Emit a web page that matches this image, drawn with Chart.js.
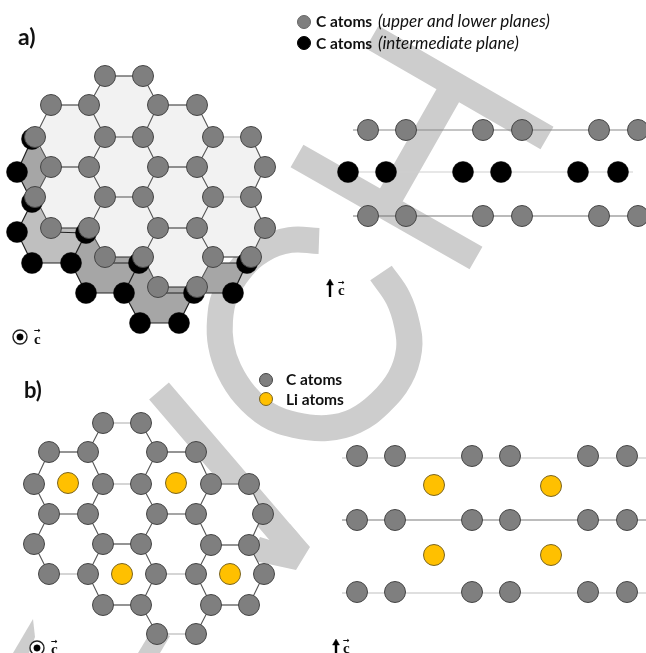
<!DOCTYPE html>
<html><head><meta charset="utf-8">
<script src="https://cdn.jsdelivr.net/npm/chart.js@4"></script>
<style>html,body{margin:0;padding:0;background:#fff}canvas{display:block}</style>
</head><body><canvas id="c" width="646" height="653"></canvas>
<script>
// Top-view atoms, same ordering in both panels (rows top to bottom)
const topAtomsA=[[105,76],[143,76],[51,105],[89,105],[158,105],[197,105],[35,137],[105,137],[143,137],[213,137],[251,137],[51,167],[89,167],[158,167],[197,167],[265,167],[35,197],[105,197],[143,197],[213,197],[251,197],[51,228],[89,228],[158,228],[197,228],[265,228],[105,257],[143,257],[213,257],[251,257],[158,287],[197,287]];
const topAtomsB=[[103,423],[141,423],[49,452],[88,452],[157,452],[196,452],[34,484],[103,484],[141,484],[211,484],[249,484],[49,514],[88,514],[157,514],[196,514],[263,514],[34,544],[103,544],[141,544],[211,545],[249,545],[49,574],[88,574],[156,574],[196,574],[264,574],[103,605],[141,605],[211,605],[249,605],[157,634],[196,634]];
const hexRings=[[0,1,4,8,7,3],[2,3,7,12,11,6],[4,5,9,14,13,8],[9,10,15,20,19,14],[7,8,13,18,17,12],[11,12,17,22,21,16],[13,14,19,24,23,18],[19,20,25,29,28,24],[17,18,23,27,26,22],[23,24,28,31,30,27]];
const midBondsA=[[7,8],[17,18]], lightBondsA=[[9,10],[19,20]];
const midBondsB=[[11,12],[13,14],[9,10]], lightBondsB=[[0,1],[7,8],[21,22],[23,24],[30,31]];
const blackAtomsA=[[32,139],[17,172],[32,202],[17,232],[32,263],[71,263],[86,233],[86,293],[124,293],[139,263],[194,293],[233,293],[247,263],[140,323],[179,323]];
const blackBondsA=[[[32,139],[17,172]],[[17,172],[32,202]],[[32,202],[17,232]],[[17,232],[32,263]],[[32,263],[71,263]],[[71,263],[86,233]],[[71,263],[86,293]],[[86,293],[124,293]],[[124,293],[139,263]],[[124,293],[140,323]],[[140,323],[179,323]],[[179,323],[194,293]],[[194,293],[233,293]],[[233,293],[247,263]],[[51,232],[86,233]],[[103,263],[139,263]],[[158,293],[194,293]],[[210,263],[247,263]]];
const lowerDark=[[[32,139],[17,172],[32,202],[60,170]],[[86,233],[71,263],[86,293],[124,293],[139,263],[120,233]],[[139,263],[124,293],[140,323],[179,323],[194,293],[170,263]],[[205,263],[194,293],[233,293],[247,263]]];
const lowerLight=[[[32,202],[17,232],[32,263],[71,263],[86,233],[70,202]]];
// Side views
const sideXUpperA=[368,406,483,522,599,638];
const sideXMiddleA=[348,386,463,501,578,618];
const sideYA=[130,172,216];
const sideXB=[357,395,472,510,588,627];
const sideYB=[456,520,592];
const liTopB=[[68,483],[176,483],[122,574],[230,574]];
const liSideB=[[434,485],[551,486],[434,555],[551,555]];
// Plane lines: [x0,x1,y]
const planeLinesA=[[353,646,130,'#8a8a8a'],[333,633,172,'#cfcfcf'],[353,646,216,'#777777']];
const planeLinesB=[[342,646,458,'#c0c0c0'],[342,646,520,'#7a7a7a'],[342,646,593,'#c0c0c0']];
// Watermark strokes
const wmBars=[[[372,37],[547,138]],[[455,83],[385,206]],[[297,156],[476,258]],[[159,391],[290,544]]];
const wmArc=[[319,241],[290,240],[262,250],[240,270],[225,295],[220,320],[221,345],[229,370],[245,395],[268,415],[295,425],[327,428],[355,421],[380,403],[400,378],[409,350],[407,325],[398,298],[381,273]];
const wmPatches=[[[33,619],[13,653],[29,653],[35,637]],[[138,653],[153,628],[170,636],[160,653]],[[260,537],[273,541],[290,524],[310,547],[296,570],[250,560]]];
// Legends and labels
const legendGrayA=[[304,22]], legendBlackA=[[304,43]], legendGrayB=[[266,380]], legendLiB=[[266,399]];
const axisDots=[[20,337],[37,648]];
const axisArrows=[[[330,297],[330,283]],[[336,654],[336,643]]];
const labels=[
 ['a)',18,38,'bold 23px Lato'],['b)',24,391,'bold 22px Lato'],
 ['C atoms',316,22,'bold 15.5px Lato'],['(upper and lower planes)',378,22,'italic 17px Lato'],
 ['C atoms',316,44,'bold 15.5px Lato'],['(intermediate plane)',378,44,'italic 17px Lato'],
 ['C atoms',286,380,'bold 15.5px Lato'],['Li atoms',286,400,'bold 15.5px Lato'],
 ['c',34,340,'bold 15px "Liberation Serif"'],['c',338,291,'bold 15px "Liberation Serif"'],
 ['c',51,650,'bold 15px "Liberation Serif"'],['c',343,649,'bold 15px "Liberation Serif"'],
 ['\u2192',34,331,'bold 8px "DejaVu Sans"'],['\u2192',338,283,'bold 8px "DejaVu Sans"'],
 ['\u2192',51,642,'bold 8px "DejaVu Sans"'],['\u2192',343,641,'bold 8px "DejaVu Sans"']
];

const P=a=>({x:a[0],y:a[1]});
const GAP={x:null,y:null};
const segs=list=>list.flatMap(s=>[P(s[0]),P(s[1]),GAP]);
const base={showLine:true,pointRadius:0,pointHoverRadius:0,spanGaps:false};
const stroke=(list,color,w,extra)=>Object.assign({},base,{data:segs(list),borderColor:color,borderWidth:w,borderCapStyle:'butt'},extra||{});
const poly=(pts,color)=>Object.assign({},base,{data:pts.map(P),fill:'shape',backgroundColor:color,borderWidth:0,borderColor:'transparent'});
const atoms=(pts,fill,edge,r,w)=>({showLine:false,data:pts.map(P),pointRadius:r,pointHoverRadius:r,backgroundColor:fill,borderColor:edge,borderWidth:w,pointBorderWidth:w});
const key=(a,b)=>Math.min(a,b)+'-'+Math.max(a,b);
function bonds(atomsList,mid,light){
  const midK=new Set(mid.map(e=>key(e[0],e[1]))),lightK=new Set(light.map(e=>key(e[0],e[1]))),seen=new Set();
  const g={dark:[],slant:[],mid:[],light:[]};
  hexRings.forEach(r=>r.forEach((a,i)=>{
    const b=r[(i+1)%6],k=key(a,b); if(seen.has(k))return; seen.add(k);
    const s=[atomsList[a],atomsList[b]];
    if(midK.has(k))g.mid.push(s); else if(lightK.has(k))g.light.push(s);
    else if(Math.abs(s[0][1]-s[1][1])<3)g.dark.push(s); else g.slant.push(s);
  }));
  return [stroke(g.slant,'#555555',1.1),stroke(g.dark,'#2a2a2a',1.2),stroke(g.mid,'#888888',1.3),stroke(g.light,'#c8c8c8',1.6)];
}
const cross=(xs,y)=>xs.map(x=>[x,y]);
const GRAY='#7f7f7f',EDGE='#454545',R=10.5;
// back to front
const layers=[
 stroke(wmBars,'#cdcdcd',26),
 Object.assign({},base,{data:wmArc.map(P),borderColor:'#cdcdcd',borderWidth:26,tension:0.4,borderCapStyle:'butt'}),
 ...wmPatches.map(p=>poly(p,'#cdcdcd')),
 ...lowerDark.map(p=>poly(p,'#a6a6a6')),
 ...lowerLight.map(p=>poly(p,'#bfbfbf')),
 stroke(blackBondsA,'#222222',1.2),
 ...hexRings.map(r=>poly(r.map(i=>topAtomsA[i]),'#f2f2f2')),
 ...hexRings.map(r=>poly(r.map(i=>topAtomsB[i]),'#ffffff')),
 ...bonds(topAtomsA,midBondsA,lightBondsA),
 ...bonds(topAtomsB,midBondsB,lightBondsB),
 atoms(blackAtomsA,'#000000','#000000',R,0.5),
 atoms(topAtomsA,GRAY,EDGE,R,1),
 atoms(topAtomsB,GRAY,EDGE,R,1),
 atoms(liTopB,'#ffc000','#7a6420',R,1),
 ...planeLinesA.concat(planeLinesB).map(l=>stroke([[[l[0],l[2]],[l[1],l[2]]]],l[3],1.2)),
 atoms(cross(sideXUpperA,sideYA[0]).concat(cross(sideXUpperA,sideYA[2])),GRAY,EDGE,R,1),
 atoms(cross(sideXMiddleA,sideYA[1]),'#000000','#000000',R,0.5),
 atoms(sideYB.flatMap(y=>cross(sideXB,y)),GRAY,EDGE,R,1),
 atoms(liSideB,'#ffc000','#7a6420',R,1),
 atoms(legendGrayA,GRAY,'#666666',6.5,1),
 atoms(legendBlackA,'#000000','#000000',6.5,1),
 atoms(legendGrayB,GRAY,EDGE,6.5,1),
 atoms(legendLiB,'#ffc000','#7a6420',6.5,1),
 atoms(axisDots,'#ffffff','#222222',7,1.4),
 atoms(axisDots,'#000000','#000000',3.2,0.5),
 stroke(axisArrows,'#000000',2.4),
 Object.assign(atoms(axisArrows.map(a=>a[1]),'#000000','#000000',4,0.5),{pointStyle:'triangle'})
];
const textPlugin={id:'textLabels',afterDatasetsDraw(chart){
  const c=chart.ctx,sx=chart.scales.x,sy=chart.scales.y;
  c.save();c.fillStyle='#111111';c.textBaseline='middle';c.textAlign='left';
  labels.forEach(l=>{c.font=l[3];c.fillText(l[0],sx.getPixelForValue(l[1]),sy.getPixelForValue(l[2]));});
  c.restore();
}};
new Chart(document.getElementById('c'),{
  type:'scatter',
  data:{datasets:layers.map((d,i)=>Object.assign(d,{order:layers.length-i}))},
  options:{responsive:false,animation:false,layout:{padding:0,autoPadding:false},
    plugins:{legend:{display:false},tooltip:{enabled:false}},
    scales:{x:{type:'linear',min:0,max:646,display:false},y:{type:'linear',min:0,max:653,reverse:true,display:false}}},
  plugins:[textPlugin]
});
</script></body></html>
